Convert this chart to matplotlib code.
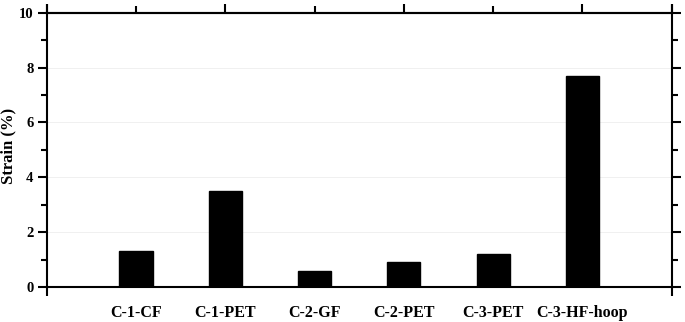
import numpy as np
import matplotlib.pyplot as plt
from matplotlib.ticker import MultipleLocator

plt.rcParams['font.family'] = 'Liberation Serif'
plt.rcParams['font.weight'] = 'bold'

samples = ['C-1-CF', 'C-1-PET', 'C-2-GF', 'C-2-PET', 'C-3-PET', 'C-3-HF-hoop']
strain = [1.3, 3.5, 0.6, 0.9, 1.2, 7.7]

fig = plt.figure(figsize=(6.85, 3.22), dpi=100)
ax = fig.add_axes([0.0682, 0.1087, 0.9124, 0.8519])

pos = np.arange(1, len(samples) + 1)
ax.bar(pos, strain, width=0.37, color='black', edgecolor='black', zorder=3)

ax.set_xlim(0, 7)
ax.set_ylim(0, 10)

# faint horizontal grid
for g in [2, 4, 6, 8]:
    ax.axhline(g, color='#eeeeee', lw=0.6, zorder=1)

for s in ax.spines.values():
    s.set_linewidth(1.5)

# y axis, both sides, ticks outward
ax.yaxis.set_major_locator(MultipleLocator(2))
ax.yaxis.set_minor_locator(MultipleLocator(1))
ax.tick_params(axis='y', which='both', direction='out', left=True, right=True,
               labelright=False, width=1.5, labelsize=10.5, pad=3)
ax.tick_params(axis='y', which='major', length=6.5)
ax.tick_params(axis='y', which='minor', length=4.3)

# x axis: corner ticks at bottom, category ticks on top
ax.set_xticks([0, 7])
ax.set_xticklabels([])
ax.set_xticks(pos, minor=True)
ax.set_xticklabels(samples, minor=True)
ax.tick_params(axis='x', which='major', direction='out', length=6.5, width=1.5,
               bottom=True, top=True)
ax.tick_params(axis='x', which='minor', length=0, pad=13, labelsize=11.5)

top = ax.secondary_xaxis('top')
top.set_xticks([0, 2, 4, 6, 7])
top.set_xticks([1, 3, 5], minor=True)
top.set_xticklabels([])
top.tick_params(which='major', direction='out', length=6.5, width=1.5)
top.tick_params(which='minor', direction='out', length=4.8, width=1.5)
top.spines['top'].set_linewidth(1.5)

fig.text(0.012, 0.548, 'Strain (%)', rotation=90, ha='center', va='center',
         fontsize=12, fontweight='bold')

fig.savefig('out.png', dpi=100)
